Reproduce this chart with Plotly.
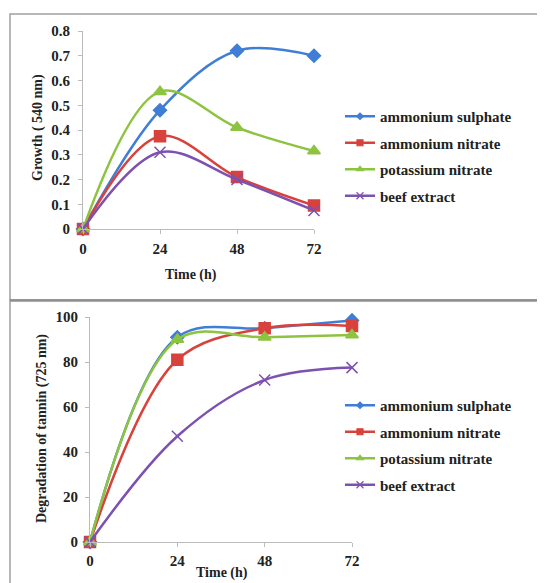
import plotly.graph_objects as go

time_h = [0, 24, 48, 72]
series_names = ["ammonium sulphate", "ammonium nitrate", "potassium nitrate", "beef extract"]

growth_sulphate = [0, 0.48, 0.72, 0.70]
growth_amm_nitrate = [0, 0.375, 0.21, 0.095]
growth_pot_nitrate = [0, 0.555, 0.41, 0.315]
growth_beef = [0, 0.31, 0.20, 0.075]

degr_sulphate = [0, 91, 95, 98.5]
degr_amm_nitrate = [0, 81, 95, 96]
degr_pot_nitrate = [0, 90, 91, 92]
degr_beef = [0, 47, 72, 77.5]

x_ticks = [0, 24, 48, 72]
y1_ticks = [0, 0.1, 0.2, 0.3, 0.4, 0.5, 0.6, 0.7, 0.8]
y1_labels = ["0", "0.1", "0.2", "0.3", "0.4", "0.5", "0.6", "0.7", "0.8"]
y2_ticks = [0, 20, 40, 60, 80, 100]

colors = ["#3F7ED5", "#D8423C", "#8DC43F", "#7D51B0"]
symbols = ["diamond", "square", "triangle-up", "x-thin-open"]
sizes = [10, 11, 11, 11]
legend_sizes = [5, 6, 6, 7]

OFF = 8  # page body margin
W, H = 545 - OFF, 583 - OFF
FONT = "Liberation Serif"


def px_x(p):
    return (p - OFF) / W


def px_y(p):
    return 1 - (p - OFF) / H


fig = go.Figure()

top_data = [growth_sulphate, growth_amm_nitrate, growth_pot_nitrate, growth_beef]
bot_data = [degr_sulphate, degr_amm_nitrate, degr_pot_nitrate, degr_beef]

for panel, data, xa, ya, lg in [("t", top_data, "x", "y", "legend"),
                                ("b", bot_data, "x2", "y2", "legend2")]:
    for i, (name, ys) in enumerate(zip(series_names, data)):
        fig.add_trace(go.Scatter(
            x=time_h, y=ys, name=name, mode="lines+markers",
            line=dict(color=colors[i], width=2.5, shape="spline", smoothing=1),
            marker=dict(symbol=symbols[i], size=sizes[i], color=colors[i],
                        line=dict(color=colors[i], width=1.5)),
            xaxis=xa, yaxis=ya, showlegend=False, cliponaxis=False,
        ))
        # legend entry with a smaller symbol
        fig.add_trace(go.Scatter(
            x=[None], y=[None], name=name, mode="lines+markers",
            line=dict(color=colors[i], width=2.5),
            marker=dict(symbol=symbols[i], size=legend_sizes[i], color=colors[i],
                        line=dict(color=colors[i], width=1.2)),
            xaxis=xa, yaxis=ya, legend=lg, legendgroup=panel + str(i), showlegend=True,
        ))

tickfont = dict(family=FONT, size=15, color="#222", weight="bold")
axis_common = dict(showgrid=False, zeroline=False, showline=True, linecolor="#BBBBBB",
                   linewidth=1, ticks="outside", ticklen=4, tickcolor="#BBBBBB",
                   tickfont=tickfont, automargin=False)
legend_font = dict(family=FONT, size=15, color="#222", weight="bold")

fig.update_layout(
    width=W, height=H,
    margin=dict(l=0, r=0, t=0, b=0, pad=0, autoexpand=False),
    paper_bgcolor="white", plot_bgcolor="white",
    showlegend=True,
    xaxis=dict(domain=[px_x(83), px_x(314)], range=[0, 72], tickvals=x_ticks,
               anchor="y", ticklabelstandoff=2, **axis_common),
    yaxis=dict(domain=[px_y(229), px_y(31)], range=[0, 0.8], tickvals=y1_ticks,
               ticktext=y1_labels, anchor="x", ticklabelstandoff=5, **axis_common),
    xaxis2=dict(domain=[px_x(90), px_x(352)], range=[0, 72], tickvals=x_ticks,
                anchor="y2", ticklabelstandoff=1, **axis_common),
    yaxis2=dict(domain=[px_y(542), px_y(317)], range=[0, 100], tickvals=y2_ticks,
                anchor="x2", ticklabelstandoff=4, **axis_common),
    legend=dict(x=px_x(340), y=px_y(100), xanchor="left", yanchor="top",
                font=legend_font, traceorder="grouped", tracegroupgap=4, itemwidth=30,
                bgcolor="rgba(0,0,0,0)"),
    legend2=dict(x=px_x(340), y=px_y(389), xanchor="left", yanchor="top",
                 font=legend_font, traceorder="grouped", tracegroupgap=4, itemwidth=30,
                 bgcolor="rgba(0,0,0,0)"),
)

title_font = dict(family=FONT, size=14, color="#222", weight="bold")
ann_common = dict(xref="paper", yref="paper", showarrow=False, font=title_font,
                  xanchor="center", yanchor="middle")
fig.add_annotation(text="Growth ( 540 nm)", x=px_x(38), y=px_y(127), textangle=-90, **ann_common)
fig.add_annotation(text="Time (h)", x=px_x(191), y=px_y(275), **ann_common)
fig.add_annotation(text="Degradation of tannin (725 nm)", x=px_x(42), y=px_y(429), textangle=-90, **ann_common)
fig.add_annotation(text="Time (h)", x=px_x(222), y=px_y(573), **ann_common)

# panel borders
fig.add_shape(type="rect", xref="paper", yref="paper", x0=px_x(10), x1=px_x(544), y0=px_y(300), y1=px_y(14),
              fillcolor="rgba(0,0,0,0)", line=dict(color="#A0A0A0", width=1.5))
fig.add_shape(type="rect", xref="paper", yref="paper", x0=px_x(10), x1=px_x(544), y0=px_y(600), y1=px_y(300),
              fillcolor="rgba(0,0,0,0)", line=dict(color="#A0A0A0", width=1.5))
fig.add_shape(type="line", xref="paper", yref="paper", x0=px_x(10), x1=px_x(544), y0=px_y(300.5), y1=px_y(300.5),
              line=dict(color="#909090", width=2.5))

fig.write_html("out.html")
